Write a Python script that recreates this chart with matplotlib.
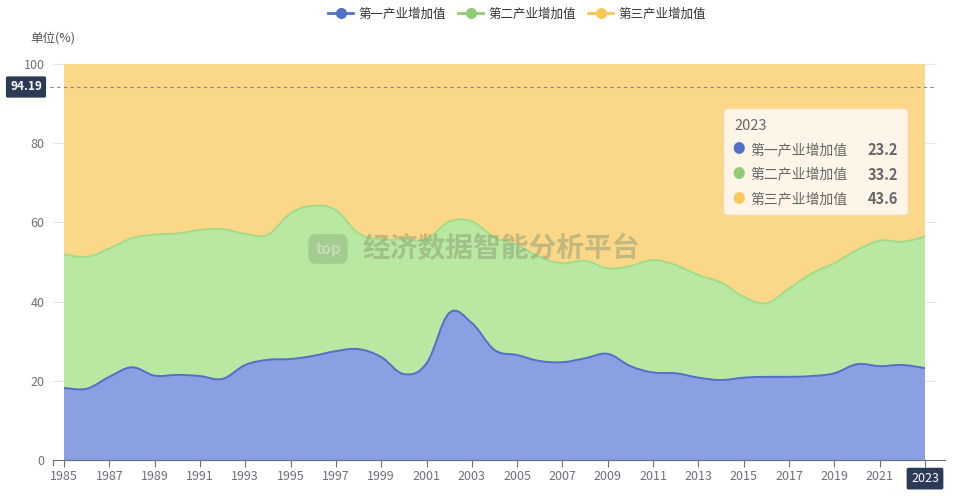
import numpy as np
import matplotlib
matplotlib.use("Agg")
import matplotlib.pyplot as plt
from matplotlib.path import Path
from matplotlib.patches import PathPatch, FancyBboxPatch
from matplotlib.lines import Line2D

plt.rcParams['font.family'] = ['Noto Sans CJK SC', 'DejaVu Sans']

# data (share of GDP, %)
years = list(range(1985, 2024))
primary = [18.2, 18.0, 21.0, 23.4, 21.3, 21.5, 21.2, 20.5, 24.0, 25.3,
           25.5, 26.3, 27.5, 28.0, 26.0, 21.7, 24.4, 37.1, 34.6, 27.8,
           26.5, 25.0, 24.7, 25.7, 26.8, 23.7, 22.1, 21.9, 20.8, 20.2,
           20.8, 21.0, 21.0, 21.2, 21.9, 24.2, 23.7, 24.0, 23.2]
secondary_top = [51.9, 51.3, 53.4, 56.0, 56.9, 57.2, 58.1, 58.3, 57.1, 56.9,
                 62.3, 64.2, 63.1, 57.2, 55.7, 55.7, 55.7, 60.2, 60.2, 56.2,
                 54.3, 51.2, 49.7, 50.3, 48.4, 49.0, 50.5, 49.2, 46.7, 44.8,
                 41.2, 39.6, 43.3, 47.1, 49.7, 53.0, 55.4, 55.1, 56.4]
secondary = [round(t - p, 1) for t, p in zip(secondary_top, primary)]
tertiary = [round(100 - t, 1) for t in secondary_top]

names = ['第一产业增加值', '第二产业增加值', '第三产业增加值']
line_colors = ['#5470c6', '#91cc75', '#fac858']
fill_colors = ['#8aa0e3', '#b9e8a2', '#fbd78a']
tick_years = list(range(1985, 2024, 2))
marker_value = 94.19


def smooth_path(x, y, s=0.18):
    verts = [(x[0], y[0])]
    codes = [Path.MOVETO]
    n = len(x)
    for i in range(n - 1):
        a = max(i - 1, 0)
        b = min(i + 2, n - 1)
        c1 = (x[i] + s * (x[i + 1] - x[a]), y[i] + s * (y[i + 1] - y[a]))
        c2 = (x[i + 1] - s * (x[b] - x[i]), y[i + 1] - s * (y[b] - y[i]))
        verts += [c1, c2, (x[i + 1], y[i + 1])]
        codes += [Path.CURVE4] * 3
    return verts, codes


def area(ax, x, top, bottom, fc, lc, lw=1.4):
    tv, tc = smooth_path(x, top)
    bv, bc = smooth_path(x[::-1], bottom[::-1])
    bc[0] = Path.LINETO
    verts = tv + bv + [tv[0]]
    codes = tc + bc + [Path.CLOSEPOLY]
    ax.add_patch(PathPatch(Path(verts, codes), facecolor=fc, edgecolor='none', zorder=2))
    ax.add_patch(PathPatch(Path(tv, tc), facecolor='none', edgecolor=lc, lw=lw, zorder=3))


fig = plt.figure(figsize=(9.58, 5), dpi=100)
ax = fig.add_axes([64 / 958, 40 / 500, 861 / 958, 396 / 500])

x = np.array(years, dtype=float)
p = np.array(primary)
s2 = p + np.array(secondary)
s3 = s2 + np.array(tertiary)
zero = np.zeros_like(x)

area(ax, x, s3, s2, fill_colors[2], fill_colors[2], lw=0.8)
area(ax, x, s2, p, fill_colors[1], '#a3dc87')
area(ax, x, p, zero, fill_colors[0], line_colors[0])

ax.set_xlim(1985, 2023)
ax.set_ylim(0, 100)
ax.set_yticks([0, 20, 40, 60, 80, 100])
ax.set_xticks(tick_years)
ax.set_xticklabels([str(t) for t in tick_years[:-1]] + [''])
for yv in [20, 40, 60, 80, 100]:
    ax.plot([1984.5, 2023.45], [yv, yv], color='#e0e6f1', lw=0.8, zorder=1, clip_on=False)

for sp in ['top', 'right', 'left']:
    ax.spines[sp].set_visible(False)
ax.spines['bottom'].set_color('#6e7079')
ax.spines['bottom'].set_zorder(5)
ax.tick_params(axis='x', colors='#6e7079', labelcolor='#6e7079', length=5, labelsize=9, pad=2)
ax.tick_params(axis='y', length=0, labelcolor='#6e7079', labelsize=9, pad=14)
# axis line runs a little past the data like the reference
ax.plot([1984.5, 2023.9], [0, 0], color='#6e7079', lw=0.8, clip_on=False, zorder=5)
ax.plot([1984.5, 1984.5], [0, -1.3], color='#6e7079', lw=0.8, clip_on=False, zorder=5)

# axis pointer
ax.plot([1984.4, 2023.5], [marker_value, marker_value], color='#888888', lw=0.8,
        ls=(0, (3, 3)), zorder=4, clip_on=False)
ax.axvline(2023, color='#bbbbbb', lw=0.8, ls=(0, (3, 3)), zorder=4)
fig.text(26 / 958, 1 - 87 / 500, f'{marker_value:.2f}', color='white', fontsize=8.5, fontweight='bold',
         ha='center', va='center', zorder=6,
         bbox=dict(boxstyle='round,pad=0.35,rounding_size=0.15', fc='#2b3a55', ec='none'))
ax.text(2023, -4.7, '2023', color='white', fontsize=9, ha='center', va='center', zorder=6, clip_on=False,
        bbox=dict(boxstyle='round,pad=0.35,rounding_size=0.15', fc='#2b3a55', ec='none'))

# watermark
fig.text(328 / 958, 1 - 249 / 500, 'top', fontsize=11, fontweight='bold', color='#c8d8bc', ha='center',
         va='center', zorder=10,
         bbox=dict(boxstyle='round,pad=0.45,rounding_size=0.5', fc='#9cc489', ec='none', alpha=0.75))
fig.text(362 / 958, 1 - 249 / 500, '经济数据智能分析平台', fontsize=20, fontweight='bold',
         color='#8c9c72', alpha=0.5, ha='left', va='center', zorder=10)

# tooltip
tip = FancyBboxPatch((724 / 958, (500 - 215) / 500), 184 / 958, 106 / 500,
                     boxstyle='round,pad=0,rounding_size=0.006', transform=fig.transFigure,
                     fc='#fdf6e8', ec='#f0e4c8', lw=0.6, zorder=10)
fig.add_artist(tip)
fig.text(734 / 958, 1 - 126 / 500, '2023', fontsize=10.5, color='#666666', va='center', zorder=11)
vals = [primary[-1], secondary[-1], tertiary[-1]]
for i, (nm, v) in enumerate(zip(names, vals)):
    yy = 1 - (150 + 24.5 * i) / 500
    fig.text(739 / 958, yy, '●', fontsize=9, color=line_colors[i], ha='center', va='center', zorder=11)
    fig.text(750 / 958, yy, nm, fontsize=10, color='#666666', va='center', zorder=11)
    fig.text(898 / 958, yy, f'{v:.1f}', fontsize=10.5, fontweight='bold', color='#666666',
             ha='right', va='center', zorder=11)

# unit label
fig.text(30 / 958, 1 - 38 / 500, '单位(%)', fontsize=9, color='#555555', va='center')

# legend
handles = [Line2D([0], [0], color=c, marker='o', markersize=7, lw=2) for c in line_colors]
fig.legend(handles, names, loc='center', bbox_to_anchor=(517 / 958, 1 - 14 / 500), ncol=3, frameon=False,
           fontsize=9, handlelength=2.0, handletextpad=0.4, columnspacing=1.0, labelcolor='#333333')

fig.savefig('out.png', dpi=100)
